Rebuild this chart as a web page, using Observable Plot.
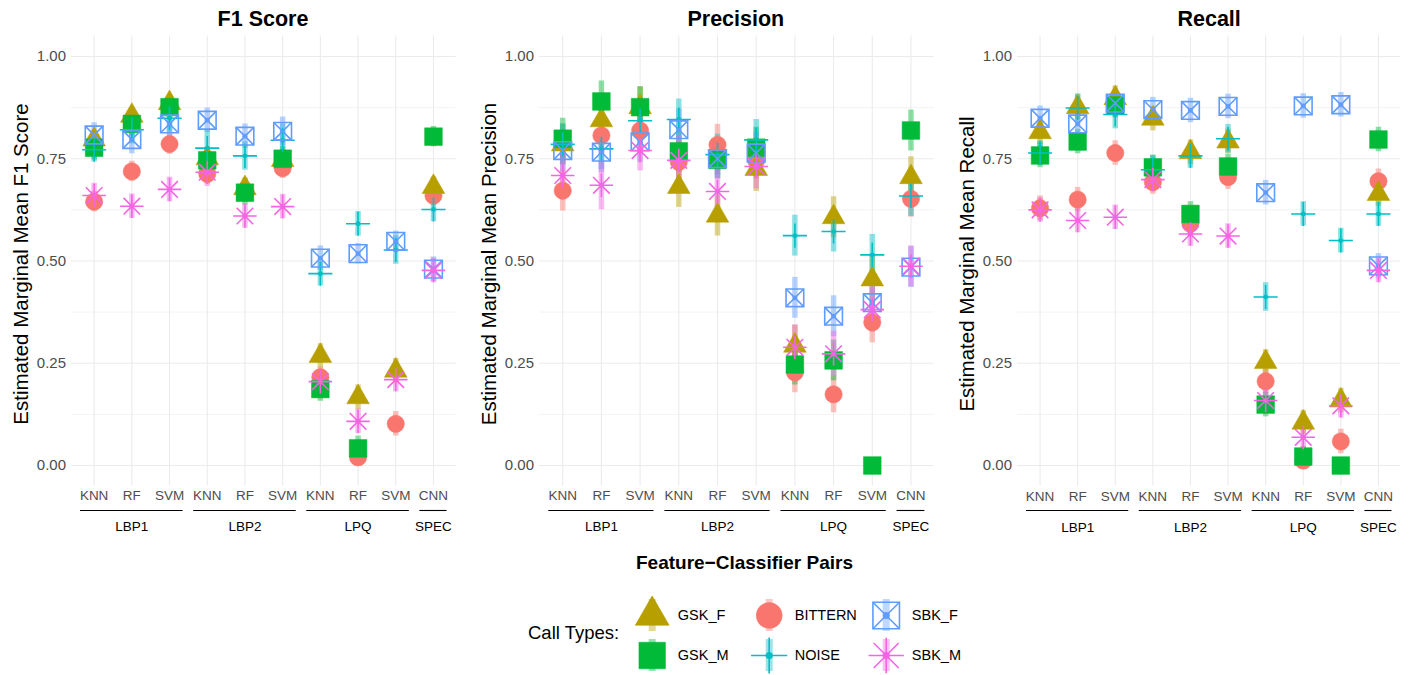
<!DOCTYPE html>
<html><head><meta charset="utf-8">
<script src="https://cdn.jsdelivr.net/npm/d3@7"></script>
<script src="https://cdn.jsdelivr.net/npm/@observablehq/plot@0.6"></script>
<style>
body{margin:0;background:#fff;font-family:"Liberation Sans",Arial,sans-serif;}
#root{position:relative;width:1418px;height:675px;overflow:hidden;background:#fff;}
.abs{position:absolute;white-space:nowrap;line-height:1;}
</style></head>
<body><div id="root"></div>
<script>
// ---------- data ----------
const features    = ["LBP1","LBP1","LBP1","LBP2","LBP2","LBP2","LPQ","LPQ","LPQ","SPEC"];
const classifiers = ["KNN","RF","SVM","KNN","RF","SVM","KNN","RF","SVM","CNN"];
const callTypes   = ["BITTERN","GSK_F","GSK_M","NOISE","SBK_F","SBK_M"];
const typeColors  = ["#F8766D","#B79F00","#00BA38","#00BFC4","#619CFF","#F564E3"];
const yTicks      = [0, 0.25, 0.5, 0.75, 1];
const yMinorTicks = [0.125, 0.375, 0.625, 0.875];

// F1 score estimates
const f1_BITTERN = [0.645, 0.719, 0.786, 0.713, 0.668, 0.727, 0.216, 0.020, 0.102, 0.660];
const f1_GSK_F   = [0.797, 0.855, 0.886, 0.751, 0.678, 0.747, 0.268, 0.167, 0.232, 0.681];
const f1_GSK_M   = [0.777, 0.835, 0.876, 0.746, 0.667, 0.750, 0.187, 0.042, null,  0.804];
const f1_NOISE   = [0.772, 0.821, 0.849, 0.776, 0.757, 0.795, 0.469, 0.591, 0.527, 0.626];
const f1_SBK_F   = [0.808, 0.797, 0.835, 0.844, 0.805, 0.817, 0.507, 0.518, 0.548, 0.480];
const f1_SBK_M   = [0.660, 0.634, 0.675, 0.717, 0.610, 0.633, 0.205, 0.108, 0.210, 0.477];
// F1 CI half widths
const f1ci_BITTERN = [0.025, 0.025, 0.025, 0.025, 0.025, 0.025, 0.025, 0.020, 0.030, 0.025];
const f1ci_GSK_F   = [0.020, 0.020, 0.020, 0.025, 0.025, 0.025, 0.030, 0.030, 0.030, 0.025];
const f1ci_GSK_M   = [0.030, 0.030, 0.020, 0.030, 0.030, 0.030, 0.030, 0.030, null,  0.025];
const f1ci_NOISE   = [0.030, 0.035, 0.035, 0.045, 0.035, 0.040, 0.030, 0.030, 0.035, 0.030];
const f1ci_SBK_F   = [0.030, 0.035, 0.030, 0.030, 0.030, 0.035, 0.030, 0.025, 0.025, 0.030];
const f1ci_SBK_M   = [0.030, 0.030, 0.030, 0.035, 0.030, 0.030, 0.030, 0.030, 0.030, 0.030];

// Precision estimates
const pr_BITTERN = [0.672, 0.807, 0.819, 0.742, 0.784, 0.746, 0.228, 0.174, 0.350, 0.652];
const pr_GSK_F   = [0.785, 0.844, 0.876, 0.681, 0.611, 0.725, 0.293, 0.607, 0.455, 0.705];
const pr_GSK_M   = [0.799, 0.890, 0.876, 0.768, 0.747, 0.777, 0.247, 0.257, 0.000, 0.819];
const pr_NOISE   = [0.785, 0.774, 0.843, 0.846, 0.760, 0.796, 0.562, 0.572, 0.515, 0.659];
const pr_SBK_F   = [0.770, 0.766, 0.791, 0.821, 0.750, 0.764, 0.410, 0.365, 0.398, 0.485];
const pr_SBK_M   = [0.709, 0.685, 0.770, 0.746, 0.670, 0.731, 0.289, 0.273, 0.381, 0.487];
const prci_BITTERN = [0.050, 0.045, 0.050, 0.050, 0.050, 0.045, 0.050, 0.045, 0.050, 0.045];
const prci_GSK_F   = [0.050, 0.060, 0.050, 0.050, 0.050, 0.055, 0.050, 0.050, 0.060, 0.050];
const prci_GSK_M   = [0.050, 0.050, 0.050, 0.050, 0.045, 0.050, 0.050, 0.050, 0.000, 0.050];
const prci_NOISE   = [0.050, 0.050, 0.045, 0.050, 0.050, 0.050, 0.050, 0.050, 0.050, 0.050];
const prci_SBK_F   = [0.050, 0.050, 0.050, 0.050, 0.050, 0.050, 0.050, 0.050, 0.050, 0.050];
const prci_SBK_M   = [0.060, 0.060, 0.050, 0.060, 0.055, 0.055, 0.055, 0.055, 0.055, 0.050];

// Recall estimates
const rc_BITTERN = [0.629, 0.650, 0.764, 0.693, 0.591, 0.705, 0.206, 0.012, 0.059, 0.695];
const rc_GSK_F   = [0.815, 0.876, 0.898, 0.848, 0.766, 0.792, 0.253, 0.105, 0.159, 0.664];
const rc_GSK_M   = [0.758, 0.792, 0.880, 0.729, 0.615, 0.731, 0.149, 0.022, 0.000, 0.797];
const rc_NOISE   = [0.764, 0.874, 0.858, 0.723, 0.757, 0.799, 0.412, 0.615, 0.550, 0.615];
const rc_SBK_F   = [0.849, 0.835, 0.886, 0.870, 0.868, 0.878, 0.667, 0.879, 0.882, 0.488];
const rc_SBK_M   = [0.625, 0.599, 0.607, 0.699, 0.566, 0.561, 0.159, 0.069, 0.146, 0.477];
const rcci_BITTERN = [0.030, 0.030, 0.030, 0.030, 0.030, 0.030, 0.030, 0.020, 0.030, 0.030];
const rcci_GSK_F   = [0.030, 0.030, 0.030, 0.030, 0.030, 0.030, 0.030, 0.030, 0.030, 0.030];
const rcci_GSK_M   = [0.030, 0.030, 0.030, 0.030, 0.030, 0.030, 0.030, 0.025, 0.000, 0.030];
const rcci_NOISE   = [0.030, 0.035, 0.035, 0.035, 0.030, 0.035, 0.035, 0.030, 0.030, 0.030];
const rcci_SBK_F   = [0.030, 0.030, 0.030, 0.030, 0.030, 0.030, 0.030, 0.030, 0.030, 0.030];
const rcci_SBK_M   = [0.030, 0.030, 0.030, 0.030, 0.030, 0.030, 0.030, 0.030, 0.030, 0.030];

const legendOrder = ["GSK_F","GSK_M","BITTERN","NOISE","SBK_F","SBK_M"];

// ---------- helpers ----------
const root = document.getElementById("root");
const FONT = "'Liberation Sans', Arial, sans-serif";
const idx = classifiers.map((_, i) => i);
const groups = [];
features.forEach((f, i) => {
  const g = groups[groups.length - 1];
  if (g && g.name === f) g.end = i; else groups.push({name: f, start: i, end: i});
});
const colorScale = {domain: callTypes, range: typeColors};

// shape styling per call type (ggplot shapes 17,16,15,3,7,8)
const shapeSpec = {
  BITTERN: [{symbol: "circle", r: 8.65, filled: true}],
  GSK_F:   [{symbol: "triangle", r: 8.43, filled: true}],
  GSK_M:   [{symbol: "square", r: 9.98, filled: true}],
  NOISE:   [{symbol: "plus", r: 7.8}],
  SBK_F:   [{symbol: "square2", r: 11.27}, {symbol: "times", r: 8.1}],
  SBK_M:   [{symbol: "plus", r: 7.6}, {symbol: "times", r: 7.6}]
};

function shapeMarks(data, scale, extra = {}) {
  const marks = [];
  for (const t of callTypes) {
    const sub = data.filter(d => d.type === t);
    for (const s of shapeSpec[t]) {
      const o = {x: extra.x || "i", y: extra.y || "v", symbol: s.symbol, r: s.r * scale};
      if (s.filled) { o.fill = "type"; o.stroke = "type"; o.strokeWidth = 0.5; }
      else { o.fill = "none"; o.stroke = "type"; o.strokeWidth = 1.6; }
      marks.push(Plot.dot(sub, o));
    }
  }
  return marks;
}

function addText(txt, css) {
  const d = document.createElement("div");
  d.className = "abs";
  d.textContent = txt;
  Object.assign(d.style, css);
  root.appendChild(d);
  return d;
}

function panel(p) {
  const ML = 72, MR = 12, H = 545, MT = 35.5, MB = H - 485.5;
  const W = (p.R - p.L) + ML + MR;
  const rows = [];
  callTypes.forEach(t => {
    p.values[t].forEach((v, i) => {
      if (v == null) return;
      const h = p.ci[t][i] || 0;
      rows.push({i, type: t, v, lo: v - h, hi: v + h});
    });
  });
  const svg = Plot.plot({
    width: W, height: H,
    marginLeft: ML, marginRight: MR, marginTop: MT, marginBottom: MB,
    style: {fontFamily: FONT, background: "transparent", overflow: "visible"},
    x: {type: "linear", domain: [-0.6, 9.6], axis: null},
    y: {domain: [-0.05, 1.05], axis: null},
    color: colorScale,
    marks: [
      Plot.gridY(yMinorTicks, {stroke: "#ebebeb", strokeOpacity: 1, strokeWidth: 0.6}),
      Plot.gridY(yTicks, {stroke: "#ebebeb", strokeOpacity: 1, strokeWidth: 1.1}),
      Plot.gridX(idx, {stroke: "#ebebeb", strokeOpacity: 1, strokeWidth: 1.1}),
      Plot.axisY(yTicks, {tickSize: 0, tickPadding: 5.5, tickFormat: d3.format(".2f"), fontSize: 15, color: "#4d4d4d", label: null}),
      Plot.text(idx, {x: d => d, text: d => classifiers[d], frameAnchor: "bottom", dy: 14.5, fontSize: 13.5, fill: "#4d4d4d"}),
      Plot.ruleY(groups, {x1: g => g.start - 0.36, x2: g => g.end + 0.36, y: () => -0.05, dy: 24.5, stroke: "black", strokeWidth: 1.1}),
      Plot.text(groups, {x: g => (g.start + g.end) / 2, text: "name", frameAnchor: "bottom", dy: 45.5, fontSize: 13.5, fill: "black"}),
      Plot.ruleX(rows, {x: "i", y1: "lo", y2: "hi", stroke: "type", strokeWidth: 5.5, strokeOpacity: 0.45}),
      Plot.dot(rows, {x: "i", y: "v", r: 2.4, fill: "type"}),
      ...shapeMarks(rows, 1)
    ]
  });
  svg.style.position = "absolute";
  svg.style.left = (p.L - ML) + "px";
  svg.style.top = "0px";
  svg.style.maxWidth = "none";
  root.appendChild(svg);
  const cx = (p.L + p.R) / 2;
  addText(p.title, {left: cx + "px", top: "19.5px", transform: "translate(-50%,-50%)", fontSize: "21.5px", fontWeight: "bold", color: "#000"});
  addText(p.ylabel, {left: (p.L - 50) + "px", top: "264px", transform: "translate(-50%,-50%) rotate(-90deg)", fontSize: "20.5px", color: "#000"});
}

panel({title: "F1 Score", ylabel: "Estimated Marginal Mean F1 Score", L: 70.7, R: 455.3,
  values: {BITTERN: f1_BITTERN, GSK_F: f1_GSK_F, GSK_M: f1_GSK_M, NOISE: f1_NOISE, SBK_F: f1_SBK_F, SBK_M: f1_SBK_M},
  ci: {BITTERN: f1ci_BITTERN, GSK_F: f1ci_GSK_F, GSK_M: f1ci_GSK_M, NOISE: f1ci_NOISE, SBK_F: f1ci_SBK_F, SBK_M: f1ci_SBK_M}});
panel({title: "Precision", ylabel: "Estimated Marginal Mean Precision", L: 538.5, R: 933.2,
  values: {BITTERN: pr_BITTERN, GSK_F: pr_GSK_F, GSK_M: pr_GSK_M, NOISE: pr_NOISE, SBK_F: pr_SBK_F, SBK_M: pr_SBK_M},
  ci: {BITTERN: prci_BITTERN, GSK_F: prci_GSK_F, GSK_M: prci_GSK_M, NOISE: prci_NOISE, SBK_F: prci_SBK_F, SBK_M: prci_SBK_M}});
panel({title: "Recall", ylabel: "Estimated Marginal Mean Recall", L: 1017.4, R: 1400.9,
  values: {BITTERN: rc_BITTERN, GSK_F: rc_GSK_F, GSK_M: rc_GSK_M, NOISE: rc_NOISE, SBK_F: rc_SBK_F, SBK_M: rc_SBK_M},
  ci: {BITTERN: rcci_BITTERN, GSK_F: rcci_GSK_F, GSK_M: rcci_GSK_M, NOISE: rcci_NOISE, SBK_F: rcci_SBK_F, SBK_M: rcci_SBK_M}});

// x-axis title
addText("Feature\u2212Classifier Pairs", {left: "744.5px", top: "561.5px", transform: "translate(-50%,-50%)", fontSize: "19px", fontWeight: "bold", color: "#000"});

// ---------- legend ----------
const legendRows = legendOrder.map((t, k) => ({type: t, col: Math.floor(k / 2), row: k % 2}));
const legendSvg = Plot.plot({
  width: 440, height: 85, margin: 0,
  style: {fontFamily: FONT, background: "transparent", overflow: "visible"},
  x: {type: "linear", domain: [0, 2], range: [151.7, 385.7], axis: null},
  y: {type: "linear", domain: [0, 1], range: [25, 65], axis: null},
  color: colorScale,
  marks: [
    Plot.ruleX(legendRows, {x: "col", y1: d => d.row - 0.4, y2: d => d.row + 0.4, stroke: "type", strokeWidth: 7, strokeOpacity: 0.4}),
    Plot.dot(legendRows, {x: "col", y: "row", r: 3.5, fill: "type"}),
    ...shapeMarks(legendRows, 1.5, {x: "col", y: "row"}),
    Plot.text(legendRows, {x: "col", y: "row", text: "type", dx: 25.6, textAnchor: "start", fontSize: 14.5, fill: "#000"})
  ]
});
legendSvg.style.position = "absolute";
legendSvg.style.left = "500px";
legendSvg.style.top = "590px";
legendSvg.style.maxWidth = "none";
root.appendChild(legendSvg);
addText("Call Types:", {left: "528px", top: "633px", transform: "translate(0,-50%)", fontSize: "18.5px", color: "#000"});
</script>
</body></html>
